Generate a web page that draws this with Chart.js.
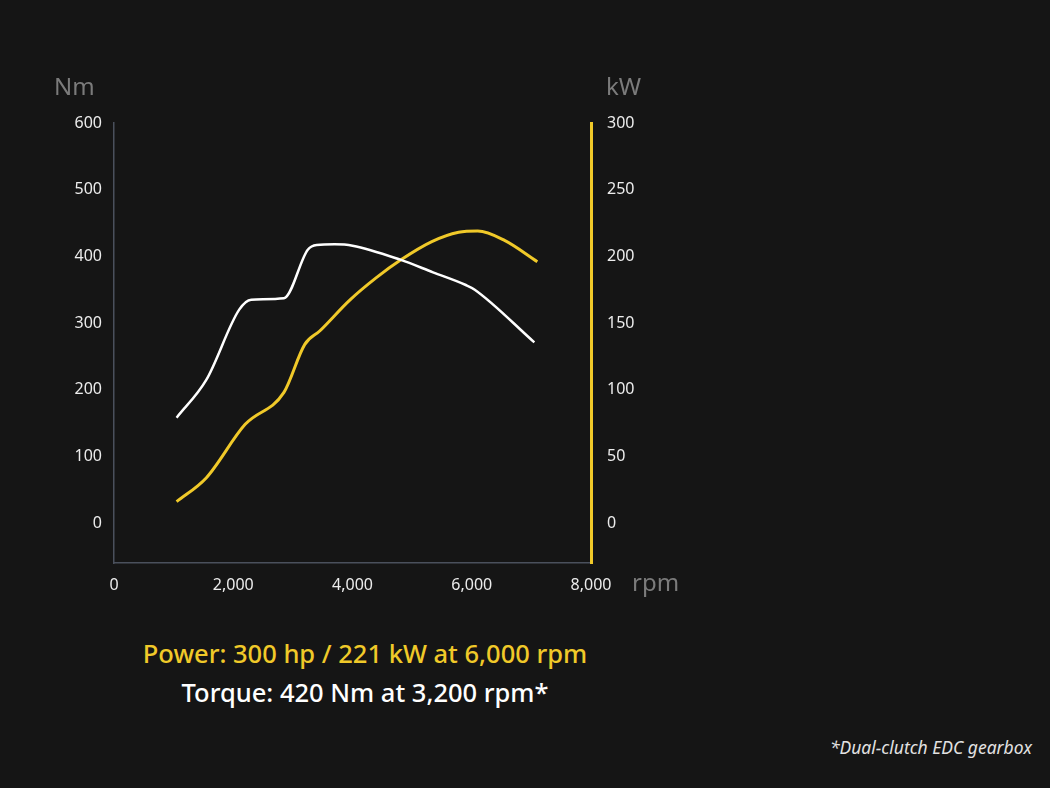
<!DOCTYPE html>
<html lang="en">

<head>
    <meta charset="UTF-8">
    <title>Power and torque</title>
    <script src="https://cdn.jsdelivr.net/npm/chart.js"></script>
    <style>
        body {
            margin: 0;
            background: #151515;
            width: 1050px;
            height: 788px;
            overflow: hidden;
            position: relative;
            font-family: "Noto Sans", sans-serif;
        }

        #wrap {
            position: absolute;
            left: 0;
            top: 0;
            width: 700px;
            height: 620px;
        }

        .unit {
            position: absolute;
            color: #7b7b7b;
            font-size: 24px;
            line-height: 24px;
        }

        .caption {
            position: absolute;
            left: 0;
            width: 730px;
            text-align: center;
            font-size: 25.5px;
            line-height: 26px;
            font-weight: 500;
        }

        #note {
            position: absolute;
            right: 18px;
            top: 736px;
            color: #e2e2e2;
            font-size: 17.5px;
            line-height: 22px;
            font-style: italic;
        }
    </style>
</head>

<body>
    <div id="wrap"><canvas id="chart" width="700" height="620"></canvas></div>
    <div class="unit" style="left:54px; top:74px;">Nm</div>
    <div class="unit" style="left:606px; top:74px;">kW</div>
    <div class="unit" style="left:632px; top:570px;">rpm</div>
    <div class="caption" style="top:640px; color:#f0c929;">Power: 300 hp / 221 kW at 6,000 rpm</div>
    <div class="caption" style="top:679px; color:#ffffff;">Torque: 420 Nm at 3,200 rpm*</div>
    <div id="note">*Dual-clutch EDC gearbox</div>

    <script>
        // values
        const torqueRpm = [1050, 1550, 2100, 2300, 2850, 3250, 3400, 3700, 4000, 4800, 5350, 5900, 6050, 7050];
        const torqueNm = [158, 215, 320, 335, 337, 410, 417, 418, 416, 395, 376, 357, 350, 271];

        const powerRpm = [1050, 1550, 2200, 2850, 3200, 3450, 3950, 4400, 4800, 5330, 5780, 6100, 6550, 7100];
        const powerKw = [16, 34, 74, 98, 134, 144, 167, 184, 197, 211, 218, 219, 212, 196];

        const rpmTicks = [0, 2000, 4000, 6000, 8000];
        const nmTicks = [0, 100, 200, 300, 400, 500, 600];
        const kwTicks = [0, 50, 100, 150, 200, 250, 300];

        const yellow = '#f0c929';
        const tickFont = { family: 'Noto Sans', size: 16 };

        function formatNumberWithCommas(number) {
            return number.toString().replace(/\B(?=(\d{3})+(?!\d))/g, ",");
        }

        function toPoints(xs, ys) {
            return xs.map((x, i) => ({ x: x, y: ys[i] }));
        }

        const ctx = document.getElementById('chart').getContext('2d');
        new Chart(ctx, {
            type: 'line',
            data: {
                datasets: [{
                    label: 'Torque',
                    data: toPoints(torqueRpm, torqueNm),
                    yAxisID: 'yNm',
                    borderColor: '#ffffff',
                    borderWidth: 2.5,
                    pointRadius: 0,
                    cubicInterpolationMode: 'monotone'
                }, {
                    label: 'Power',
                    data: toPoints(powerRpm, powerKw),
                    yAxisID: 'yKw',
                    borderColor: yellow,
                    borderWidth: 3,
                    pointRadius: 0,
                    cubicInterpolationMode: 'monotone'
                }]
            },
            options: {
                responsive: false,
                animation: false,
                layout: { padding: { top: 123, left: 0, right: 0, bottom: 0 } },
                plugins: {
                    legend: { display: false },
                    tooltip: { enabled: false }
                },
                scales: {
                    x: {
                        type: 'linear',
                        min: 0,
                        max: 8000,
                        grid: { display: false, drawTicks: false },
                        border: { display: true, color: '#4a505c', width: 1.5 },
                        afterBuildTicks: (scale) => { scale.ticks = rpmTicks.map(v => ({ value: v })); },
                        afterFit: (scale) => { scale.height = 57; },
                        ticks: {
                            color: '#ececec',
                            font: tickFont,
                            padding: 13,
                            maxRotation: 0,
                            callback: (value) => formatNumberWithCommas(value)
                        }
                    },
                    yNm: {
                        position: 'left',
                        min: -60,
                        max: 600,
                        grid: { display: false, drawTicks: false },
                        border: { display: true, color: '#4a505c', width: 1.5 },
                        afterBuildTicks: (scale) => { scale.ticks = nmTicks.map(v => ({ value: v })); },
                        afterFit: (scale) => { scale.width = 114; },
                        ticks: { color: '#ececec', font: tickFont, padding: 12 }
                    },
                    yKw: {
                        position: 'right',
                        min: -30,
                        max: 300,
                        grid: { display: false, drawTicks: false },
                        border: { display: true, color: yellow, width: 3 },
                        afterBuildTicks: (scale) => { scale.ticks = kwTicks.map(v => ({ value: v })); },
                        afterFit: (scale) => { scale.width = 109; },
                        ticks: { color: '#ececec', font: tickFont, padding: 16 }
                    }
                }
            }
        });
    </script>
</body>

</html>
